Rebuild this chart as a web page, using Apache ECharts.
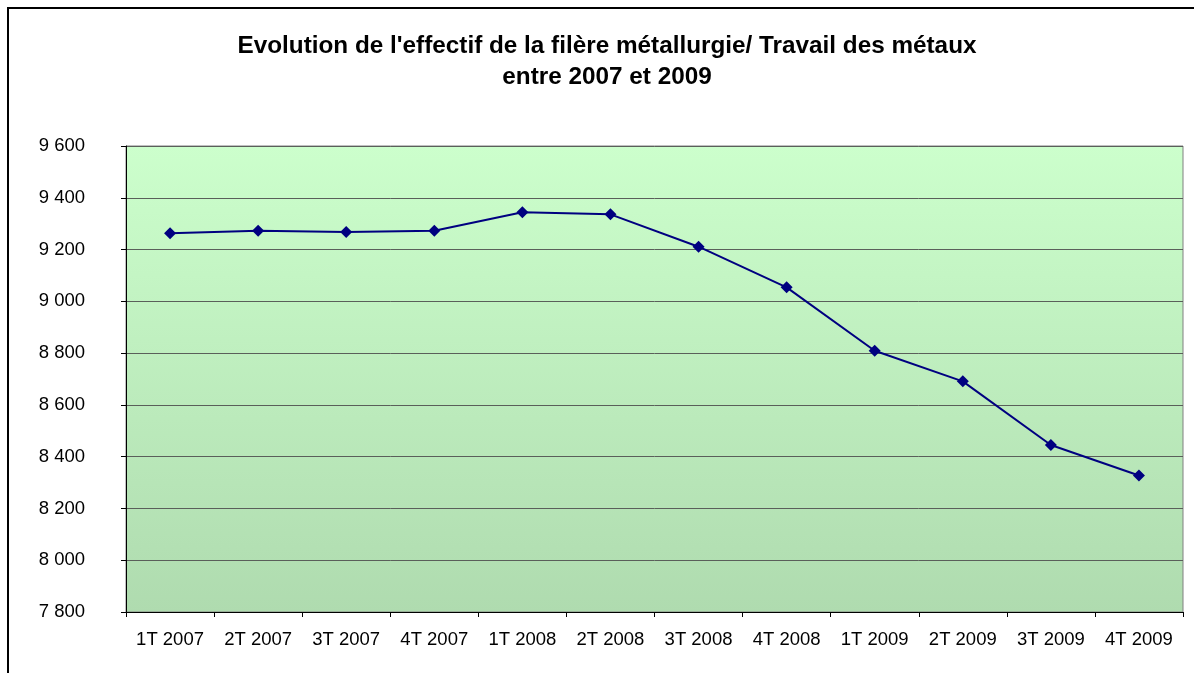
<!DOCTYPE html>
<html>
<head>
<meta charset="utf-8">
<script src="https://cdn.jsdelivr.net/npm/echarts@6/dist/echarts.min.js"></script>
<style>
html, body { margin: 0; padding: 0; background: #fff; }
#main { width: 1194px; height: 673px; }
</style>
</head>
<body>
<div id="main"></div>
<script>
var chartDom = document.getElementById('main');
var myChart = echarts.init(chartDom, null);

// trimestres
var categories = ['1T 2007', '2T 2007', '3T 2007', '4T 2007', '1T 2008', '2T 2008',
                  '3T 2008', '4T 2008', '1T 2009', '2T 2009', '3T 2009', '4T 2009'];
// effectif
var effectif = [9263, 9273, 9268, 9273, 9344, 9336, 9211, 9054, 8809, 8691, 8445, 8327];

function fmt(v) {
    var s = String(v);
    return s.length > 3 ? s.slice(0, s.length - 3) + ' ' + s.slice(-3) : s;
}

var option = {
    textStyle: {
        fontFamily: 'Liberation Sans, Arial, sans-serif'
    },
    animation: false,
    title: {
        text: "Evolution de l'effectif de la filère métallurgie/ Travail des métaux\nentre 2007 et 2009",
        left: 602,
        top: 26,
        textAlign: 'center',
        textStyle: {
            fontSize: 24.3,
            fontWeight: 'bold',
            color: '#000',
            lineHeight: 31
        }
    },
    graphic: [
        {
            type: 'rect',
            shape: { x: 8, y: 8, width: 1200, height: 700 },
            style: { fill: 'none', stroke: '#000', lineWidth: 2 },
            silent: true
        }
    ],
    grid: {
        left: 126,
        right: 11,
        top: 146,
        bottom: 61,
        show: true,
        borderColor: '#808080',
        borderWidth: 1,
        backgroundColor: {
            type: 'linear', x: 0, y: 0, x2: 0, y2: 1,
            colorStops: [
                { offset: 0, color: '#ccffcc' },
                { offset: 1, color: '#afdbaf' }
            ]
        }
    },
    xAxis: {
        type: 'category',
        data: categories,
        boundaryGap: true,
        axisLine: { lineStyle: { color: '#000', width: 1 } },
        axisTick: { show: true, length: 5, lineStyle: { color: '#000' } },
        axisLabel: { color: '#000', fontSize: 18.5, margin: 18, interval: 0 }
    },
    yAxis: {
        type: 'value',
        min: 7800,
        max: 9600,
        interval: 200,
        axisLine: { show: true, lineStyle: { color: '#000', width: 1 } },
        axisTick: { show: true, length: 5, lineStyle: { color: '#000' } },
        axisLabel: { color: '#000', fontSize: 18.5, margin: 41, formatter: fmt },
        splitLine: { show: true, lineStyle: { color: '#5a5f5a', width: 1 } }
    },
    series: [
        {
            type: 'line',
            data: effectif,
            symbol: 'diamond',
            symbolSize: 12,
            itemStyle: { color: '#000080' },
            lineStyle: { color: '#000080', width: 2 }
        }
    ]
};

myChart.setOption(option);
</script>
</body>
</html>
